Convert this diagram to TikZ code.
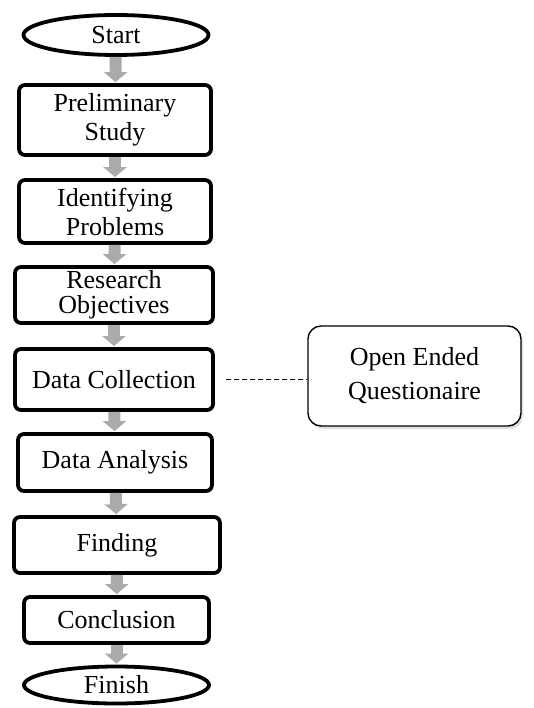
\documentclass[tikz,border=0pt]{standalone}
\usepackage{fontspec}
\setmainfont{Liberation Serif}
\usetikzlibrary{arrows.meta,shapes.geometric,shadows}
\begin{document}
\begin{tikzpicture}[x=1pt,y=-1pt,
  every node/.style={font=\fontsize{26}{29}\selectfont, align=center, inner sep=0pt},
  stepbox/.style={draw=black, line width=3.8pt, rounded corners=6pt, fill=white},
  termbox/.style={draw=black, ellipse, line width=3.8pt, fill=white},
  notebox/.style={draw=black, line width=1.4pt, rounded corners=13pt, fill=white,
    drop shadow={opacity=0.25, shadow xshift=2pt, shadow yshift=-3pt}},
  flow/.style={draw=black!33, line width=12pt, -{Triangle[width=23pt,length=10pt]}, shorten >=1pt},
  link/.style={draw=black, line width=0.8pt, dash pattern=on 5pt off 3pt}
]
\useasboundingbox (0,0) rectangle (533,708);
\node[termbox, minimum width=185pt, minimum height=40pt] (start) at (116,35) {Start};
\node[stepbox, minimum width=192pt, minimum height=70pt] (prelim) at (115,120) {Preliminary\\Study};
\node[stepbox, minimum width=192pt, minimum height=63pt] (ident) at (115,211.5) {Identifying\\Problems};
\node[stepbox, minimum width=198pt, minimum height=56pt, font=\fontsize{26}{25}\selectfont] (resobj) at (114,295) {Research\\Objectives};
\node[stepbox, minimum width=198pt, minimum height=61pt] (collect) at (114,379.5) {Data Collection};
\node[stepbox, minimum width=194pt, minimum height=57pt] (analysis) at (115,462.5) {Data Analysis};
\node[stepbox, minimum width=206pt, minimum height=56pt] (finding) at (117,545) {Finding};
\node[stepbox, minimum width=185pt, minimum height=46pt] (concl) at (116.5,620) {Conclusion};
\node[termbox, minimum width=185pt, minimum height=37pt] (finish) at (116.5,685) {Finish};
\node[notebox, minimum width=213pt, minimum height=100pt, font=\fontsize{26}{34}\selectfont] (quest) at (414.5,376) {Open Ended\\Questionaire};
\draw[flow] (start) -- (prelim);
\draw[flow] (prelim) -- (ident);
\draw[flow] (ident) -- (resobj);
\draw[flow] (resobj) -- (collect);
\draw[flow] (collect) -- (analysis);
\draw[flow] (analysis) -- (finding);
\draw[flow] (finding) -- (concl);
\draw[flow] (concl) -- (finish);
\draw[link, shorten <=11pt] (collect.east) -- (collect.east -| quest.west);
\end{tikzpicture}
\end{document}
